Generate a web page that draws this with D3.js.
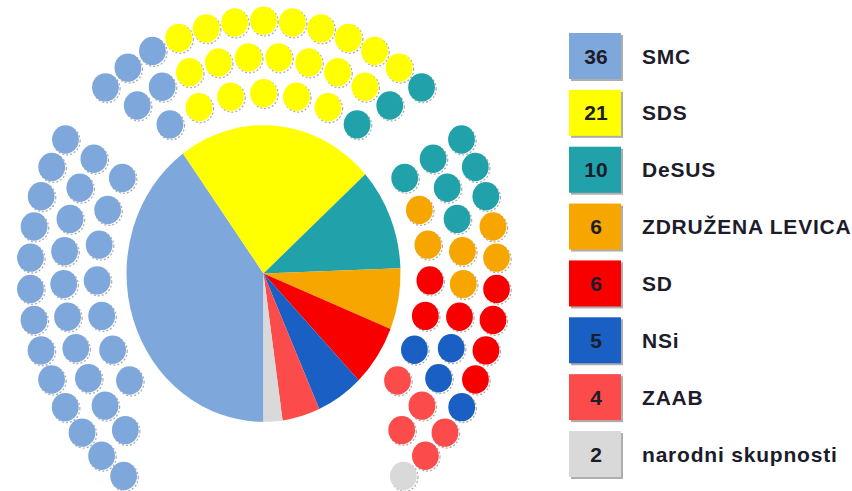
<!DOCTYPE html>
<html>
<head>
<meta charset="utf-8">
<script src="https://cdn.jsdelivr.net/npm/d3@7"></script>
<style>
  body { margin: 0; background: #fff; }
  svg { display: block; }
  text { font-family: "Liberation Sans", Arial, sans-serif; font-weight: bold; }
</style>
</head>
<body>
<div id="chart"></div>
<script>
// parties and seats
var parties = ["SMC", "SDS", "DeSUS", "ZDRUŽENA LEVICA", "SD", "NSi", "ZAAB", "narodni skupnosti"];
var seats = [36, 21, 10, 6, 6, 5, 4, 2];
var colors = ["#7ea8dc", "#ffff00", "#21a1a9", "#f7a600", "#f80000", "#1a5fc4", "#fb4b4b", "#d9d9d9"];

// seat map: party index per seat, rows outer / middle / inner
var leftRows  = ["0000000000000", "0000000000", "0000000"];
var topRows   = ["0001111111112", "0011111112", "0111112"];
var rightRows = ["2223344445667", "2223345566", "2334456"];

var width = 852, height = 491;
var cx = 263.5, cy = 273.5, ky = 1.083;

var svg = d3.select("#chart").append("svg")
    .attr("width", width)
    .attr("height", height);

// pie in the middle
var pie = d3.pie().sort(null).startAngle(Math.PI).endAngle(3 * Math.PI);
var arc = d3.arc().innerRadius(0).outerRadius(137);

var pieG = svg.append("g")
    .attr("transform", "translate(" + cx + "," + cy + ") scale(1," + ky + ")");

pieG.selectAll("path")
    .data(pie(seats))
    .enter().append("path")
    .attr("d", arc)
    .attr("fill", function(d, i) { return colors[i]; });

// seat rows
var rowRadius = [233.5, 200, 166.5];
var rowStep = [7.1, 8.7, 11.4];   // degrees between seats
var blockStart = 58;

function rowAngles(block, r, n) {
    var span = (n - 1) * rowStep[r];
    if (block == "top") return d3.scaleLinear().domain([0, n - 1]).range([-span / 2, span / 2]);
    if (block == "right") return d3.scaleLinear().domain([0, n - 1]).range([blockStart, blockStart + span]);
    return d3.scaleLinear().domain([0, n - 1]).range([-blockStart, -blockStart - span]);
}

var seatData = [];
[["left", leftRows], ["top", topRows], ["right", rightRows]].forEach(function(b) {
    b[1].forEach(function(row, r) {
        var ang = rowAngles(b[0], r, row.length);
        row.split("").forEach(function(p, i) {
            var a = ang(i) * Math.PI / 180;
            seatData.push({
                party: +p,
                x: cx + rowRadius[r] * Math.sin(a),
                y: cy - rowRadius[r] * Math.cos(a) * ky
            });
        });
    });
});

var seatG = svg.append("g");

// jagged shadow on the lower right of each seat
seatG.selectAll(".shadow")
    .data(seatData)
    .enter().append("ellipse")
    .attr("class", "shadow")
    .attr("cx", function(d) { return d.x + 1.3; })
    .attr("cy", function(d) { return d.y + 1.3; })
    .attr("rx", 13.3)
    .attr("ry", 14.1)
    .attr("fill", "none")
    .attr("stroke", "#555")
    .attr("stroke-opacity", 0.5)
    .attr("stroke-width", 1.2)
    .attr("stroke-dasharray", "2,2");

seatG.selectAll(".seat")
    .data(seatData)
    .enter().append("ellipse")
    .attr("class", "seat")
    .attr("cx", function(d) { return d.x; })
    .attr("cy", function(d) { return d.y; })
    .attr("rx", 13.4)
    .attr("ry", 14.2)
    .attr("fill", function(d) { return colors[d.party]; });

// legend
var legendY = d3.scaleLinear().domain([0, parties.length - 1]).range([56, 454]);

var leg = svg.append("g").selectAll("g")
    .data(parties)
    .enter().append("g")
    .attr("transform", function(d, i) { return "translate(569," + legendY(i) + ")"; });

leg.append("rect")
    .attr("x", 2).attr("y", -21)
    .attr("width", 52).attr("height", 46)
    .attr("fill", "#8c8c8c")
    .attr("opacity", 0.7);

leg.append("rect")
    .attr("x", 0).attr("y", -23)
    .attr("width", 52).attr("height", 46)
    .attr("fill", function(d, i) { return colors[i]; });

leg.append("text")
    .attr("x", 27)
    .attr("y", 7.5)
    .attr("text-anchor", "middle")
    .attr("font-size", 21)
    .attr("fill", "#1c1c2a")
    .text(function(d, i) { return seats[i]; });

leg.append("text")
    .attr("x", 73)
    .attr("y", 7.5)
    .attr("font-size", 21)
    .attr("letter-spacing", 0.8)
    .attr("fill", "#1c1c2a")
    .text(function(d) { return d; });
</script>
</body>
</html>
